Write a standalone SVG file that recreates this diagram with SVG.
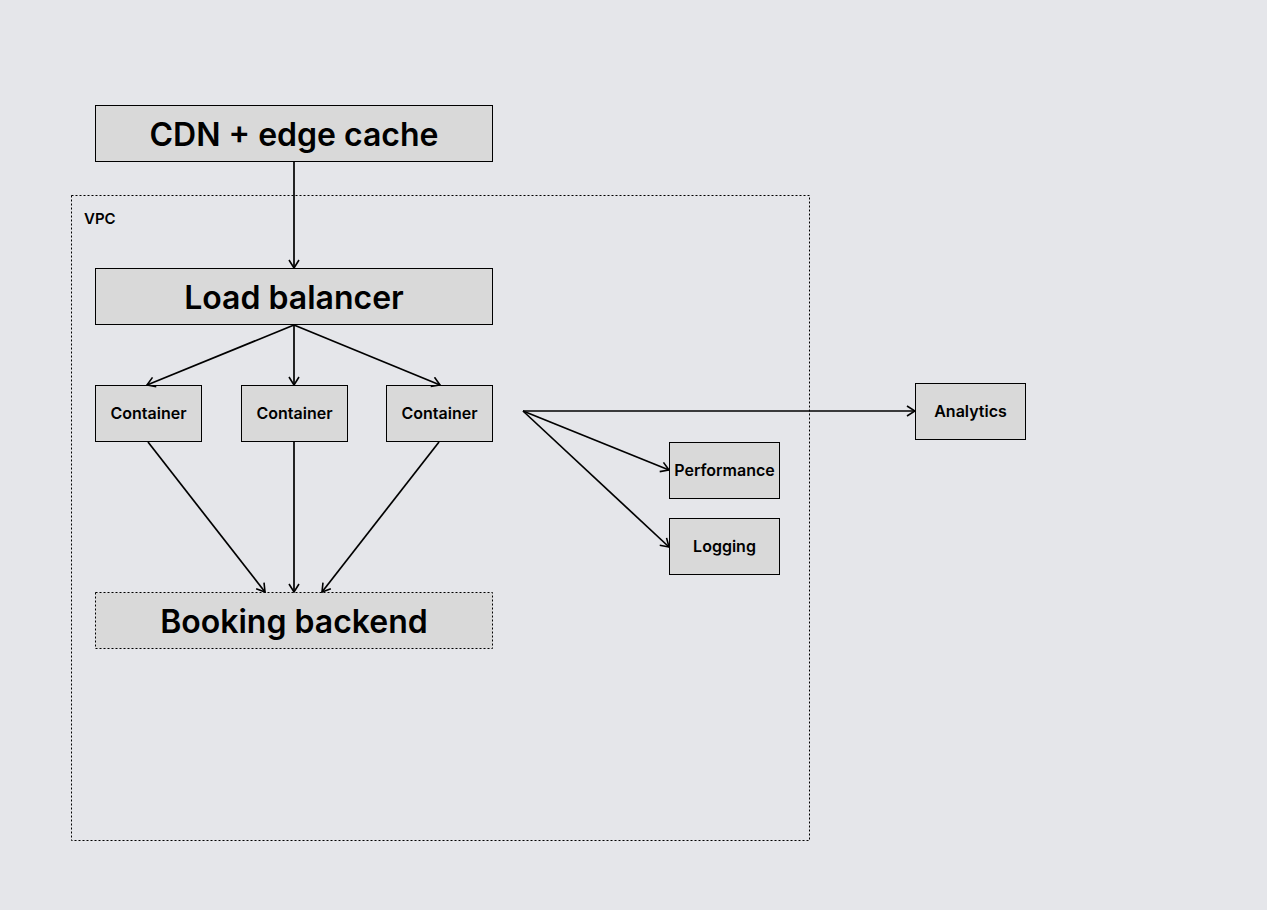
<svg xmlns="http://www.w3.org/2000/svg" width="1267" height="910" viewBox="0 0 1267 910">
<defs>
<marker id="arr" viewBox="0 0 10 12" refX="9" refY="6" markerWidth="10" markerHeight="12" markerUnits="userSpaceOnUse" orient="auto">
<path d="M1,1 L9,6 L1,11" fill="none" stroke="#000" stroke-width="1.6"/>
</marker>
<style>
.box{fill:#d9d9d9;stroke:#000;stroke-width:1}
.dot{fill:#d9d9d9;stroke:#000;stroke-width:1;stroke-dasharray:2 2}
.big{font-family:Inter,"Liberation Sans",sans-serif;font-weight:600;font-size:32px;text-anchor:middle;fill:#000}
.sm{font-family:Inter,"Liberation Sans",sans-serif;font-weight:600;font-size:16px;text-anchor:middle;fill:#000}
.edge{fill:none;stroke:#000;stroke-width:1.7;marker-end:url(#arr)}
</style>
</defs>
<rect width="1267" height="910" fill="#e5e6ea"/>
<g id="vpc">
<rect x="71.5" y="195.5" width="738" height="645" fill="none" stroke="#000" stroke-width="1" stroke-dasharray="2 2"/>
<text x="84" y="224" font-family="Inter,'Liberation Sans',sans-serif" font-weight="600" font-size="15" fill="#000">VPC</text>
</g>
<g id="cdn"><rect class="box" x="95.5" y="105.5" width="397" height="56"/><text class="big" x="294" y="146">CDN + edge cache</text></g>
<g id="lb"><rect class="box" x="95.5" y="268.5" width="397" height="56"/><text class="big" x="294" y="309">Load balancer</text></g>
<g id="c1"><rect class="box" x="95.5" y="385.5" width="106" height="56"/><text class="sm" x="148.5" y="419">Container</text></g>
<g id="c2"><rect class="box" x="241.5" y="385.5" width="106" height="56"/><text class="sm" x="294.5" y="419">Container</text></g>
<g id="c3"><rect class="box" x="386.5" y="385.5" width="106" height="56"/><text class="sm" x="439.5" y="419">Container</text></g>
<g id="backend"><rect class="dot" x="95.5" y="592.5" width="397" height="56"/><text class="big" x="294" y="633">Booking backend</text></g>
<g id="perf"><rect class="box" x="669.5" y="442.5" width="110" height="56"/><text class="sm" x="724.5" y="476">Performance</text></g>
<g id="log"><rect class="box" x="669.5" y="518.5" width="110" height="56"/><text class="sm" x="724.5" y="552">Logging</text></g>
<g id="analytics"><rect class="box" x="915.5" y="383.5" width="110" height="56"/><text class="sm" x="970.5" y="417">Analytics</text></g>
<g id="connectors">
<line class="edge" x1="294" y1="162" x2="294" y2="268"/>
<line class="edge" x1="294" y1="325" x2="147" y2="385"/>
<line class="edge" x1="294" y1="325" x2="294" y2="385"/>
<line class="edge" x1="294" y1="325" x2="440" y2="385"/>
<line class="edge" x1="148" y1="442" x2="265" y2="592"/>
<line class="edge" x1="294" y1="442" x2="294" y2="592"/>
<line class="edge" x1="439" y1="442" x2="322" y2="592"/>
<line class="edge" x1="523" y1="411" x2="915" y2="411"/>
<line class="edge" x1="523" y1="411" x2="669" y2="470"/>
<line class="edge" x1="523" y1="411" x2="669" y2="547"/>
</g>
</svg>
